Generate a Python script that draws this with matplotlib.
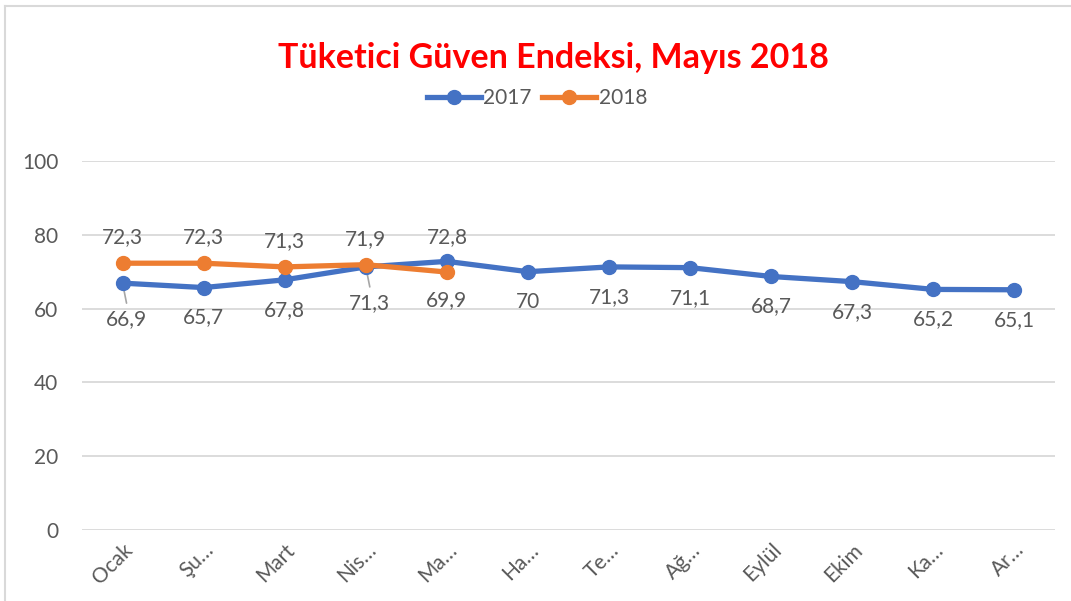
import matplotlib
matplotlib.use("Agg")
import matplotlib.pyplot as plt
from matplotlib.lines import Line2D

plt.rcParams['font.family'] = ['Lato', 'DejaVu Sans']

months = ["Ocak", "Şu…", "Mart", "Nis…", "Ma…", "Ha…", "Te…", "Ağ…", "Eylül", "Ekim", "Ka…", "Ar…"]
values_2017 = [66.9, 65.7, 67.8, 71.3, 72.8, 70, 71.3, 71.1, 68.7, 67.3, 65.2, 65.1]
values_2018 = [72.3, 72.3, 71.3, 71.9, 69.9]
yticks = [0, 20, 40, 60, 80, 100]

# label placement: +1 above, -1 below
place_2017 = [-1, -1, -1, -1, 1, -1, -1, -1, -1, -1, -1, -1]
place_2018 = [1, 1, 1, 1, -1]
leader_2017 = [True, False, False, True] + [False] * 8

BLUE = "#4472C4"
ORANGE = "#ED7D31"
GRID = "#D9D9D9"
TXT = "#595959"

fig = plt.figure(figsize=(10.71, 6.01), dpi=100)
ax = fig.add_axes([82 / 1071, 71 / 601, 973 / 1071, 369 / 601])

x17 = list(range(len(values_2017)))
x18 = list(range(len(values_2018)))
ax.plot(x17, values_2017, color=BLUE, lw=3.8, marker='o', ms=10, label="2017", zorder=3,
        solid_capstyle='round')
ax.plot(x18, values_2018, color=ORANGE, lw=3.8, marker='o', ms=10, label="2018", zorder=4,
        solid_capstyle='round')

def fmt(v):
    s = ("%.1f" % v).rstrip('0').rstrip('.')
    return s.replace('.', ',')

FS = 15
for i, v in enumerate(values_2017):
    if place_2017[i] > 0:
        ax.annotate(fmt(v), (i, v), xytext=(0, 24), textcoords='offset pixels',
                    ha='center', va='center', fontsize=FS, color=TXT, zorder=5)
    else:
        dy = -36 if leader_2017[i] else -30
        dx = 4 if leader_2017[i] else 0
        ax.annotate(fmt(v), (i, v), xytext=(dx, dy), textcoords='offset pixels',
                    ha='center', va='center', fontsize=FS, color=TXT, zorder=5)
        if leader_2017[i]:
            ax.annotate("", xy=(i, v), xytext=(4, -20), textcoords='offset pixels',
                        xycoords='data',
                        arrowprops=dict(arrowstyle='-', color='#A6A6A6', lw=1.2,
                                        shrinkA=0, shrinkB=0), zorder=2)

for i, v in enumerate(values_2018):
    dy = 26 if place_2018[i] > 0 else -28
    ax.annotate(fmt(v), (i, v), xytext=(0, dy), textcoords='offset pixels',
                ha='center', va='center', fontsize=FS, color=TXT, zorder=5)

ax.set_xlim(-0.5, len(months) - 0.5)
ax.set_ylim(0, 100)
ax.set_yticks(yticks)
ax.set_yticklabels([str(t) for t in yticks], fontsize=FS, color=TXT)
ax.set_xticks(x17)
ax.set_xticklabels(months, fontsize=15, color=TXT, rotation=45, ha='right',
                   rotation_mode='anchor')
ax.tick_params(axis='both', length=0)
ax.tick_params(axis='y', pad=17)
ax.tick_params(axis='x', pad=7)
ax.yaxis.grid(True, color=GRID, lw=1.3)
ax.set_axisbelow(True)
for s in ax.spines.values():
    s.set_visible(False)

fig.text(553 / 1071, 1 - 58 / 601, "Tüketici Güven Endeksi, Mayıs 2018", ha='center',
         va='center', fontsize=24.5, fontweight='bold', color='#FF0000')

handles = [Line2D([], [], color=BLUE, lw=3.8, marker='o', ms=10),
           Line2D([], [], color=ORANGE, lw=3.8, marker='o', ms=10)]
fig.legend(handles, ["2017", "2018"], loc='center', bbox_to_anchor=(537 / 1071, 1 - 98 / 601),
           ncol=2, frameon=False, fontsize=15, labelcolor=TXT, handlelength=2.6,
           handletextpad=0.1, columnspacing=0.5)

# chart frame
fig.add_artist(Line2D([5 / 1071, 5 / 1071], [0, 1 - 6 / 601], transform=fig.transFigure,
                      color=GRID, lw=1.5))
fig.add_artist(Line2D([5 / 1071, 1], [1 - 6 / 601, 1 - 6 / 601], transform=fig.transFigure,
                      color=GRID, lw=1.5))

fig.savefig("out.png", dpi=100)
